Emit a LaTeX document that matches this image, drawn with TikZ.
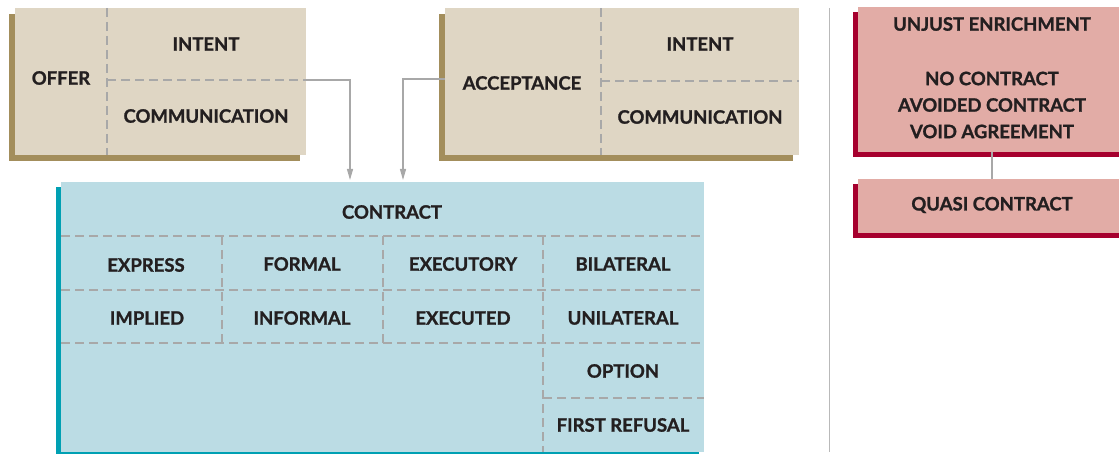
\documentclass[tikz,border=0pt]{standalone}
\usepackage{fontspec}
\setmainfont{Lato}[BoldFeatures={FakeBold=1.2}]
\usetikzlibrary{arrows.meta,shadows}
\definecolor{tanfill}{HTML}{DFD6C4}
\definecolor{tanshadow}{HTML}{A38E5C}
\definecolor{bluefill}{HTML}{BBDCE4}
\definecolor{tealshadow}{HTML}{00A0B3}
\definecolor{pinkfill}{HTML}{E2ACA6}
\definecolor{crimson}{HTML}{A6002E}
\definecolor{dashgray}{HTML}{A8A8A8}
\definecolor{txt}{HTML}{231F20}
\tikzset{
  box/.style={rectangle, inner sep=0pt, draw=none, anchor=north west},
  tanbox/.style={box, fill=tanfill, general shadow={fill=tanshadow, shadow xshift=-6pt, shadow yshift=-6pt}},
  bluebox/.style={box, fill=bluefill, general shadow={fill=tealshadow, shadow xshift=-5pt, shadow yshift=-5pt}},
  pinkbox/.style={box, fill=pinkfill, general shadow={fill=crimson, shadow xshift=-5pt, shadow yshift=-5pt}},
  lbl/.style={inner sep=0pt, text=txt, font=\bfseries\fontsize{18.5}{26.5}\selectfont, align=center},
  grid/.style={draw=dashgray, line width=1.4pt, dash pattern=on 9pt off 5pt},
  conn/.style={draw=dashgray, line width=1.3pt},
  arr/.style={conn, -{Triangle[length=11pt,width=6pt]}},
}
\begin{document}
\begin{tikzpicture}[x=1pt,y=-1pt]
\useasboundingbox (0,0) rectangle (1119,454);
\clip (0,0) rectangle (1119,454);
% boxes
\node[tanbox, minimum width=291pt, minimum height=147pt] (offerbox) at (15,8) {};
\node[tanbox, minimum width=354pt, minimum height=147pt] (accbox) at (445,8) {};
\node[bluebox, minimum width=643pt, minimum height=270pt] (contract) at (61,182) {};
\node[pinkbox, minimum width=270pt, minimum height=145pt] (unjust) at (858,7) {};
\node[pinkbox, minimum width=270pt, minimum height=54pt] (quasi) at (858,179) {};
% offer grid
\draw[grid] (107,8) -- (107,155);
\draw[grid] (107,80) -- (306,80);
% acceptance grid
\draw[grid] (601,8) -- (601,155);
\draw[grid] (601,81) -- (799,81);
% contract grid
\draw[grid] (61,236) -- (704,236);
\draw[grid] (61,290) -- (704,290);
\draw[grid] (61,343) -- (704,343);
\draw[grid] (543,398) -- (704,398);
\draw[grid] (222,236) -- (222,343);
\draw[grid] (383,236) -- (383,343);
\draw[grid] (543,236) -- (543,452);
% separator
\draw[draw=dashgray!80, line width=1pt] (829,8) -- (829,452);
% texts
\node[lbl] (offer) at (61,78) {OFFER};
\node[lbl] (ointent) at (206,44) {INTENT};
\node[lbl] (ocomm) at (206,116) {COMMUNICATION};
\node[lbl] (accept) at (522,83) {ACCEPTANCE};
\node[lbl] (aintent) at (700,44) {INTENT};
\node[lbl] (acomm) at (700,117) {COMMUNICATION};
\node[lbl] (ctitle) at (392,212) {CONTRACT};
\node[lbl] (express) at (146,265) {EXPRESS};
\node[lbl] (formal) at (302,264) {FORMAL};
\node[lbl] (executory) at (463,264) {EXECUTORY};
\node[lbl] (bilateral) at (623,264) {BILATERAL};
\node[lbl] (implied) at (147,318) {IMPLIED};
\node[lbl] (informal) at (302,318) {INFORMAL};
\node[lbl] (executed) at (463,318) {EXECUTED};
\node[lbl] (unilateral) at (623,318) {UNILATERAL};
\node[lbl] (option) at (623,371) {OPTION};
\node[lbl] (refusal) at (623,425) {FIRST REFUSAL};
\node[lbl] (ue) at (992,24) {UNJUST ENRICHMENT};
\node[lbl] (nocon) at (992,105) {NO CONTRACT\\AVOIDED CONTRACT\\VOID AGREEMENT};
\node[lbl] (qc) at (992,205) {QUASI CONTRACT};
% connectors
\coordinate (offerout) at (306,80);
\coordinate (accout) at (445,79);
\coordinate (in1) at (350,180);
\coordinate (in2) at (403,180);
\draw[arr] (offerout) -| (in1);
\draw[arr] (accout) -| (in2);
\draw[conn] (unjust.south -| qc) -- (quasi.north -| qc);
\end{tikzpicture}
\end{document}
